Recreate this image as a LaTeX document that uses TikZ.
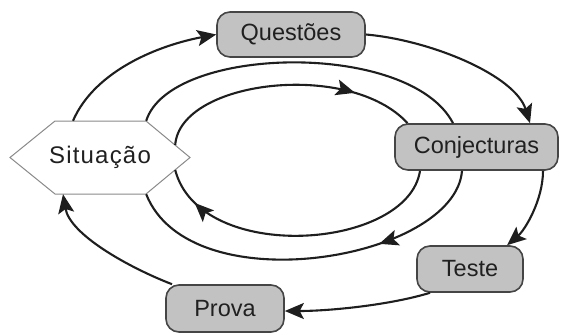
\documentclass[tikz,border=0pt]{standalone}
\usepackage{fontspec}
\setmainfont{Liberation Sans}
\usetikzlibrary{arrows.meta,decorations.markings,calc}
\definecolor{boxfill}{HTML}{C2C2C2}
\definecolor{boxline}{HTML}{454545}
\definecolor{hexline}{HTML}{8A8A8A}
\definecolor{lineclr}{HTML}{1E1E1E}
\definecolor{txt}{HTML}{202020}
\tikzset{
  box/.style={draw=boxline, line width=1.6pt, fill=boxfill, rounded corners=13pt,
    inner sep=0pt, text=txt, font=\fontsize{23.5}{26}\selectfont},
  conn/.style={draw=lineclr, line width=2.1pt},
  tip/.tip={Stealth[length=19pt,width=16pt,inset=4pt]},
  midarrow/.style={postaction={decorate},
    decoration={markings, mark=at position #1 with {\arrow{tip}}}},
}
\begin{document}
\begin{tikzpicture}[x=1pt,y=-1pt]
\useasboundingbox (0,0) rectangle (561,334);
% nodes
\node[box, minimum width=148pt, minimum height=45pt] (q) at (291,34.5) {Questões};
\node[box, minimum width=163pt, minimum height=46pt] (conj) at (476.5,147) {Conjecturas};
\node[box, minimum width=106pt, minimum height=46pt] (teste) at (470,269) {Teste};
\node[box, minimum width=118pt, minimum height=47pt] (prova) at (225,308.5) {Prova};
\coordinate (sitc) at (100,157.5);
\draw[draw=hexline, line width=1pt, fill=white]
  (10,157.5) -- (55,121) -- (146,121) -- (190,157.5) -- (146,194) -- (55,194) -- cycle;
\node[inner sep=0pt, minimum width=180pt, minimum height=73pt, text=txt,
      font=\fontsize{24}{26}\selectfont\addfontfeatures{LetterSpace=5}] (sit) at (sitc) {Situação};
% outer cycle
\draw[conn,-{tip}] ([xshift=-27pt]sit.north) .. controls (95,70) and (160,45) .. (q.west);
\draw[conn,-{tip}] (q.east) .. controls (430,40) and (515,75) .. ([xshift=53.5pt]conj.north);
\draw[conn,-{tip}] ([xshift=66.5pt]conj.south) .. controls (543,200) and (525,230) .. ([xshift=37pt]teste.north);
\draw[conn,-{tip}] ([xshift=-40pt]teste.south) .. controls (390,305) and (330,311) .. ([yshift=-2.5pt]prova.east);
\draw[conn,-{tip}] ([xshift=-53pt]prova.north) .. controls (130,268) and (70,235) .. ([xshift=-37pt]sit.south);
% middle cycle
\draw[conn] ([xshift=-44pt]sit.north east) .. controls (170,45) and (410,40) .. ([xshift=-23.5pt]conj.north);
\draw[conn,midarrow=0.31] ([xshift=-14.5pt]conj.south) .. controls (455,260) and (190,305) .. ([xshift=-44pt]sit.south east);
% inner cycle
\draw[conn,midarrow=0.77] ([xshift=-15pt,yshift=12.5pt]sit.east) .. controls (180,80) and (350,60) .. ([xshift=-69pt]conj.north);
\draw[conn,midarrow=0.87] ([xshift=-56.5pt]conj.south) .. controls (408,250) and (200,265) .. ([xshift=-15pt,yshift=-12.5pt]sit.east);
\end{tikzpicture}
\end{document}
